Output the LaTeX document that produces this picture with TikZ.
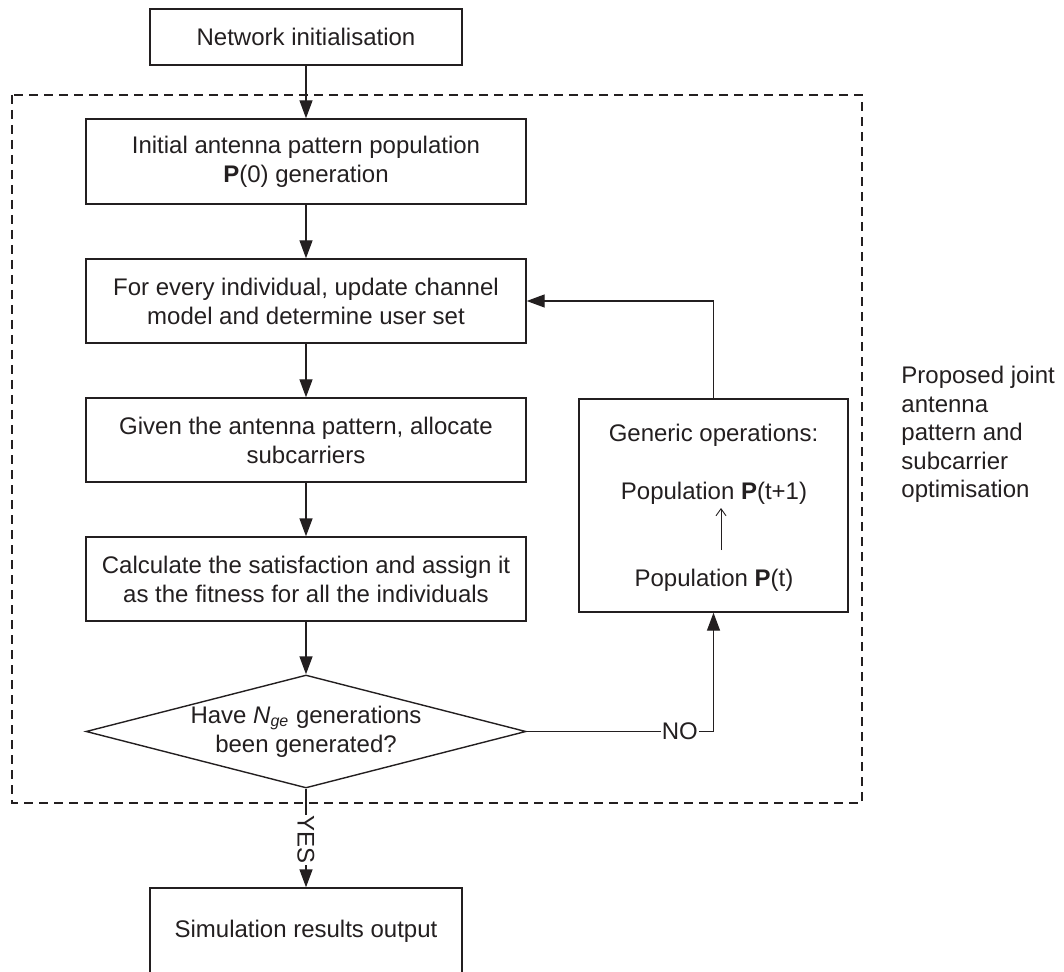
\documentclass[tikz,border=0pt]{standalone}
\usepackage{fontspec}
\setmainfont{Liberation Sans}
\usetikzlibrary{arrows.meta,shapes.geometric}
\definecolor{ink}{RGB}{35,31,32}
\begin{document}
\begin{tikzpicture}[x=0.5pt,y=-0.5pt,
  every node/.style={font=\fontsize{12}{14.5}\selectfont, text=ink},
  stepbox/.style={draw=ink, line width=0.7pt, rectangle, inner sep=0pt, align=center,
    minimum width=220pt, minimum height=42pt},
  termbox/.style={stepbox, minimum width=156pt},
  decision/.style={draw=ink, line width=0.7pt, diamond, shape aspect=3.9, inner sep=0pt,
    align=center, minimum width=220pt, minimum height=56.5pt},
  flow/.style={draw=ink, line width=0.7pt, -{Triangle[length=9pt,width=6.5pt]}},
  tag/.style={fill=white, inner sep=0.6pt},
  frame/.style={draw=ink, line width=0.6pt, dash pattern=on 4.5pt off 3pt}]

\useasboundingbox (0,0) rectangle (1064,972);

% grouping frame of the optimisation loop
\draw[frame] (12,95) rectangle (862,803);

% main flow
\node[termbox, minimum height=28pt] (init) at (306,37) {Network initialisation};
\node[stepbox, minimum height=42.5pt] (pop0) at (306,161.5)
  {Initial antenna pattern population\\\textbf{P}(0) generation};
\node[stepbox] (update) at (306,301)
  {For every individual, update channel\\model and determine user set};
\node[stepbox] (alloc) at (306,440)
  {Given the antenna pattern, allocate\\subcarriers};
\node[stepbox] (fit) at (306,579)
  {Calculate the satisfaction and assign it\\as the fitness for all the individuals};
\node[decision] (dec) at (306,731.5)
  {Have \textit{N}\textsubscript{\textit{ge}} generations\\been generated?};
\node[termbox, minimum height=43pt] (sim) at (306,931) {Simulation results output};

% genetic operations block
\node[stepbox, minimum width=134.5pt, minimum height=106.5pt] (gen) at (713.5,505.5) {};
\node[anchor=base] (genhead) at (713.5,442) {Generic operations:};
\node[anchor=base] (pnext) at (714,499) {Population \textbf{P}(t+1)};
\node[anchor=base] (pnow) at (714,586) {Population \textbf{P}(t)};
\coordinate (upfrom) at (721,550);
\coordinate (upto) at (721,508);
\draw[draw=ink, line width=0.45pt, -{Straight Barb[length=3.5pt,width=5pt]}] (upfrom) -- (upto);

% side note
\node[anchor=north west, align=left, inner sep=0pt, font=\fontsize{12}{14.25}\selectfont]
  (note) at (901,366) {Proposed joint\\antenna\\pattern and\\subcarrier\\optimisation};

% connectors
\draw[flow] (init.south) -- (pop0.north);
\draw[flow] (pop0.south) -- (update.north);
\draw[flow] (update.south) -- (alloc.north);
\draw[flow] (alloc.south) -- (fit.north);
\draw[flow] (fit.south) -- (dec.north);
\draw[flow] (dec.east) -- node[tag, pos=0.82] {NO} (dec.east -| gen.south) -- (gen.south);
\draw[flow] (gen.north) |- (update.east);
\draw[flow] (dec.south) -- node[tag, rotate=-90, pos=0.52] {YES} (sim.north);
\end{tikzpicture}
\end{document}
